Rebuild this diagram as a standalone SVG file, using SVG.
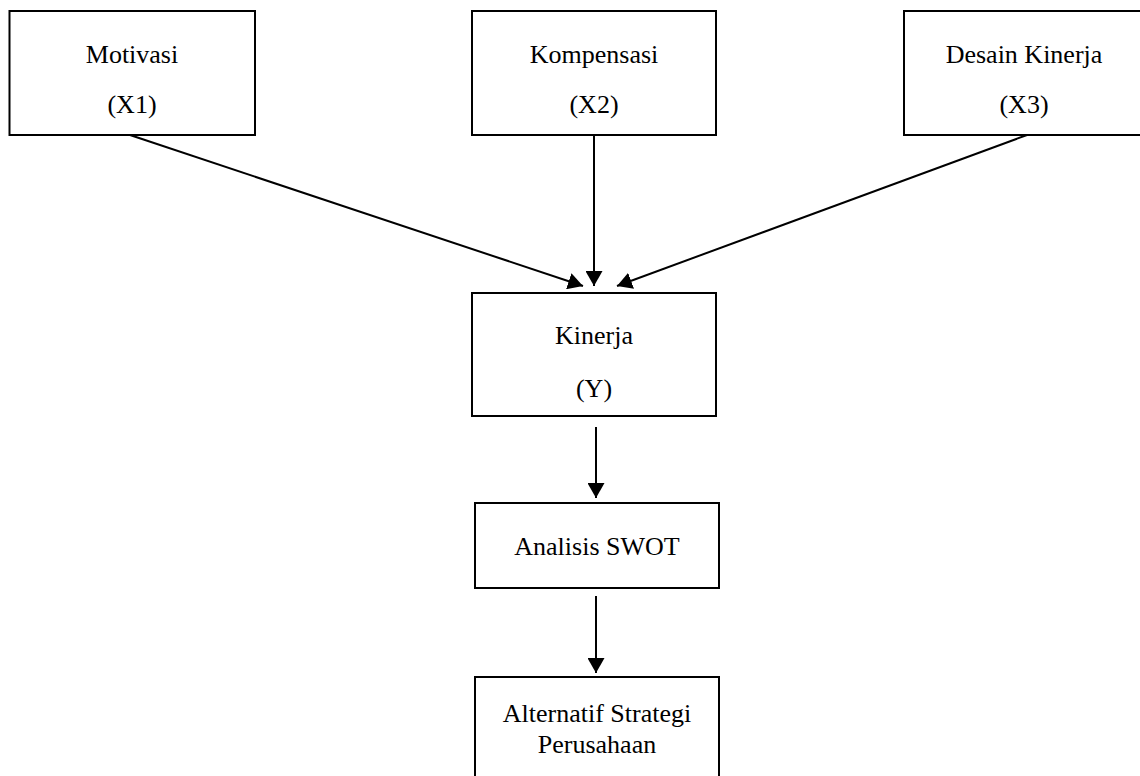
<svg xmlns="http://www.w3.org/2000/svg" width="1140" height="776" viewBox="0 0 1140 776">
<style>
.box{fill:#fff;stroke:#000;stroke-width:2}
.t{font-family:"Liberation Serif","Times New Roman",serif;font-size:26px;fill:#000;text-anchor:middle}
.c{stroke:#000;stroke-width:2;fill:none;marker-end:url(#ah)}
</style>
<defs>
<marker id="ah" viewBox="0 0 15 17" markerWidth="15" markerHeight="17" markerUnits="userSpaceOnUse" refX="15" refY="8.5" orient="auto">
<path d="M0,0 L15,8.5 L0,17 Z" fill="#000"/>
</marker>
</defs>
<rect width="1140" height="776" fill="#fff"/>
<g id="connectors">
<line class="c" x1="130" y1="135" x2="583" y2="286"/>
<line class="c" x1="594" y1="135" x2="594" y2="286"/>
<line class="c" x1="1027" y1="135" x2="617" y2="286"/>
<line class="c" x1="596" y1="427" x2="596" y2="498"/>
<line class="c" x1="596" y1="596" x2="596" y2="673"/>
</g>
<g id="motivasi">
<rect class="box" x="9.5" y="11" width="245.5" height="124"/>
<text class="t" x="132" y="63">Motivasi</text>
<text class="t" x="132" y="113">(X1)</text>
</g>
<g id="kompensasi">
<rect class="box" x="472" y="11" width="244" height="124"/>
<text class="t" x="594" y="63">Kompensasi</text>
<text class="t" x="594" y="113">(X2)</text>
</g>
<g id="desain">
<rect class="box" x="904" y="11" width="240" height="124"/>
<text class="t" x="1024" y="63">Desain Kinerja</text>
<text class="t" x="1024" y="113">(X3)</text>
</g>
<g id="kinerja">
<rect class="box" x="472" y="293" width="244" height="123"/>
<text class="t" x="594" y="344">Kinerja</text>
<text class="t" x="594" y="397">(Y)</text>
</g>
<g id="swot">
<rect class="box" x="475" y="503" width="244" height="85"/>
<text class="t" x="597" y="555">Analisis SWOT</text>
</g>
<g id="alternatif">
<rect class="box" x="475" y="677" width="244" height="120"/>
<text class="t" x="597" y="722">Alternatif Strategi</text>
<text class="t" x="597" y="753">Perusahaan</text>
</g>
</svg>
